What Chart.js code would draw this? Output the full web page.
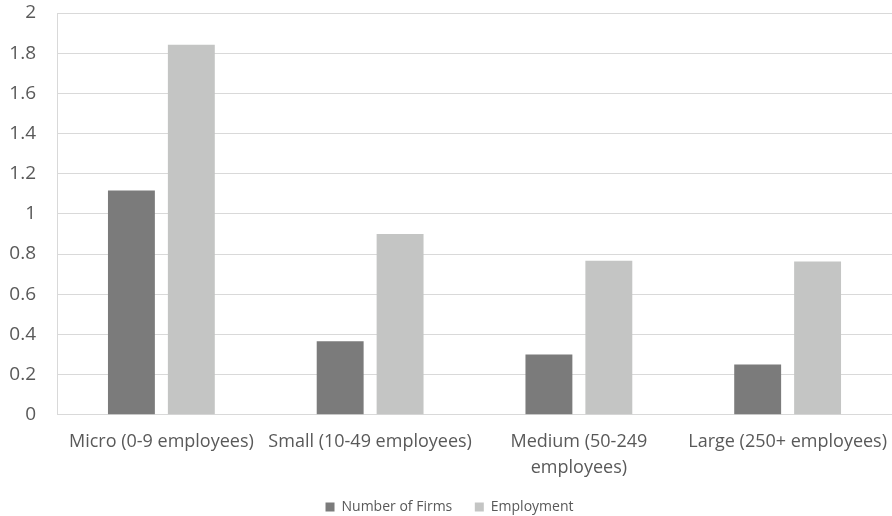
<!DOCTYPE html>
<html lang="en">
<head>
    <meta charset="UTF-8">
    <title>Firms and Employment by Size Class</title>
    <script src="https://cdn.jsdelivr.net/npm/chart.js"></script>
    <style>
        body { margin: 0; background: #fff; }
        #wrap { width: 892px; height: 516px; position: relative; }
    </style>
</head>
<body>
    <div id="wrap"><canvas id="grafico"></canvas></div>

    <script>
        // categories and series
        const categorias = [
            'Micro (0-9 employees)',
            'Small (10-49 employees)',
            ['Medium (50-249', 'employees)'],
            'Large (250+ employees)'
        ];
        const numeroEmpresas = [1.117, 0.366, 0.30, 0.25];
        const empleo = [1.842, 0.90, 0.767, 0.763];
        const ticksY = [0, 0.2, 0.4, 0.6, 0.8, 1, 1.2, 1.4, 1.6, 1.8, 2];

        const gris = '#595959';
        const rejilla = '#d9d9d9';

        const ctx = document.getElementById('grafico').getContext('2d');
        const grafico = new Chart(ctx, {
            type: 'bar',
            data: {
                labels: categorias,
                datasets: [{
                    label: 'Number of Firms',
                    data: numeroEmpresas,
                    backgroundColor: '#7b7b7b',
                    barPercentage: 0.783,
                    categoryPercentage: 0.574
                }, {
                    label: 'Employment',
                    data: empleo,
                    backgroundColor: '#c4c5c4',
                    barPercentage: 0.783,
                    categoryPercentage: 0.574
                }]
            },
            options: {
                responsive: true,
                maintainAspectRatio: false,
                animation: false,
                layout: { autoPadding: false, padding: { top: 13, right: 0, left: 7, bottom: -8 } },
                plugins: {
                    tooltip: { enabled: false },
                    legend: {
                        position: 'bottom',
                        labels: {
                            color: gris,
                            font: { family: 'Open Sans', size: 14 },
                            boxWidth: 9,
                            boxHeight: 9,
                            padding: 8,
                            // un poco más de aire entre los dos elementos
                            generateLabels: (chart) => Chart.defaults.plugins.legend.labels.generateLabels(chart)
                                .map((it, i) => i === 0 ? { ...it, text: it.text + '    ' } : it)
                        }
                    }
                },
                scales: {
                    x: {
                        grid: { display: false },
                        border: { color: rejilla },
                        ticks: {
                            color: gris,
                            font: { family: 'Open Sans', size: 18, lineHeight: 1.45 },
                            padding: 6,
                            maxRotation: 0,
                            autoSkip: false
                        },
                        afterFit: (eje) => {
                            eje.height += 5;
                            eje.paddingLeft = 0;
                            eje.paddingRight = 0;
                        }
                    },
                    y: {
                        min: 0,
                        max: 2,
                        afterBuildTicks: (eje) => {
                            eje.ticks = ticksY.map(v => ({ value: v }));
                        },
                        grid: { color: rejilla, drawTicks: false },
                        border: { color: rejilla },
                        ticks: {
                            color: gris,
                            font: { family: 'Open Sans', size: 19 },
                            padding: 21,
                            callback: (v) => String(Math.round(v * 10) / 10)
                        },
                        // el eje izquierdo en x=57 sin empujar el área hacia abajo
                        afterFit: (eje) => {
                            eje.width = 50;
                            eje.paddingTop = 0;
                            eje.paddingBottom = 0;
                        }
                    }
                }
            }
        });
    </script>
</body>
</html>
